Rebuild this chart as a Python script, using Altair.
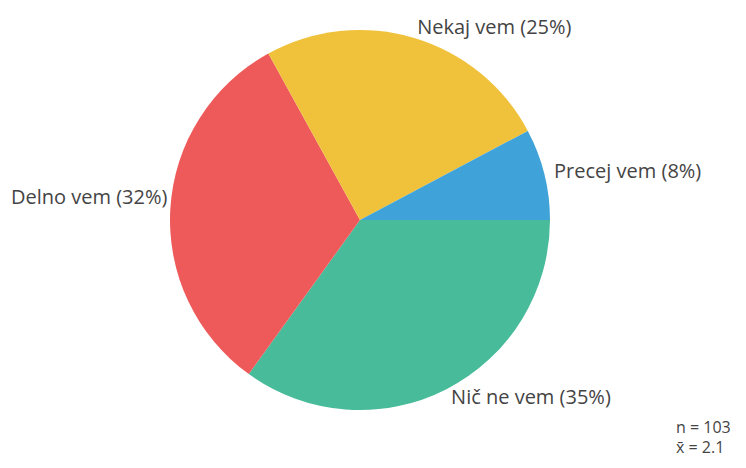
import math
import altair as alt
import pandas as pd

categories = ["Nič ne vem", "Delno vem", "Nekaj vem", "Precej vem"]
counts = [36, 33, 26, 8]
percents = [35, 32, 25, 8]
colors = ["#48bb9a", "#ee5a5a", "#f0c23b", "#3fa2d8"]
n_total = 103
mean_value = 2.1

df = pd.DataFrame({
    "cat": categories,
    "count": counts,
    "pct": percents,
    "order": list(range(len(categories))),
})
df["label"] = [f"{c} ({p}%)" for c, p in zip(categories, percents)]

start = math.pi / 2
tscale = alt.Scale(domain=[0, 1], range=[start, start + 2 * math.pi])

base = alt.Chart(df).transform_joinaggregate(
    total="sum(count)"
).transform_window(
    cum="sum(count)", sort=[alt.SortField("order")], frame=[None, 0]
).transform_calculate(
    f_end="datum.cum / datum.total",
    f_start="(datum.cum - datum.count) / datum.total",
    f_mid="(datum.cum - datum.count / 2) / datum.total",
)

pie = base.mark_arc(radius=190, stroke=None).encode(
    theta=alt.Theta("f_start:Q", scale=tscale, stack=None),
    theta2="f_end:Q",
    color=alt.Color("cat:N", scale=alt.Scale(domain=categories, range=colors), legend=None),
)

txt_style = dict(font="Open Sans", fontSize=20, color="#444444", baseline="middle")

labels_r = base.mark_text(align="left", radius=200, **txt_style).encode(
    theta=alt.Theta("f_mid:Q", scale=tscale, stack=None),
    text="label:N",
).transform_filter("sin(2 * PI * datum.f_mid + PI / 2) >= 0")

labels_l = base.mark_text(align="right", radius=193, dy=-10, **txt_style).encode(
    theta=alt.Theta("f_mid:Q", scale=tscale, stack=None),
    text="label:N",
).transform_filter("sin(2 * PI * datum.f_mid + PI / 2) < 0")

stats = pd.DataFrame({"t": [f"n = {n_total}", f"x\u0304 = {mean_value}"], "row": [0, 1]})
stat_text = alt.Chart(stats).mark_text(
    align="left", baseline="middle", font="Open Sans", fontSize=16, color="#444444"
).encode(
    x=alt.value(668),
    y=alt.Y("row:Q", scale=alt.Scale(domain=[0, 1], range=[420, 440]), axis=None),
    text="t:N",
)

chart = alt.layer(pie, labels_r, labels_l, stat_text).properties(
    width=704, height=424,
    autosize=alt.AutoSizeParams(type="none"),
    padding={"left": 0, "top": 0, "right": 26, "bottom": 28},
).configure_view(stroke=None)

chart.save("out.html", embed_options={"renderer": "svg", "actions": False})
